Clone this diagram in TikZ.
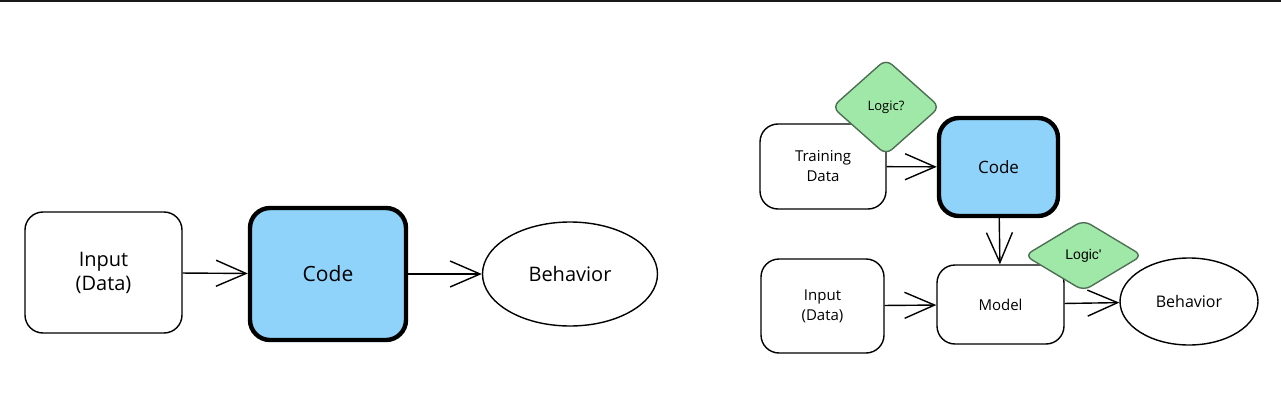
\documentclass[tikz,border=0pt]{standalone}
\usepackage{fontspec}
\setmainfont{Open Sans}
\newfontfamily\arialfont{Liberation Sans}
\usetikzlibrary{positioning,shapes.geometric,arrows.meta}

\definecolor{codeblue}{HTML}{8FD3FB}
\definecolor{logicgreen}{HTML}{A0E8A8}
\definecolor{logicedge}{HTML}{4F6F55}

\tikzset{
  box/.style = {draw, line width=0.7pt, rounded corners=9pt, align=center, fill=white},
  codebox/.style = {box, fill=codeblue, line width=2.2pt, rounded corners=10pt},
  behav/.style = {draw, ellipse, line width=0.7pt, inner sep=0pt},
  logic/.style = {draw=logicedge, fill=logicgreen, diamond, line width=0.7pt, rounded corners=4pt, inner sep=0pt},
  flow/.style = {-{Straight Barb[length=15pt, width=13pt, line width=0.7pt]}, line width=0.7pt}
}

\begin{document}
\begin{tikzpicture}[x=0.5pt, y=-0.5pt]
                \useasboundingbox (0,0) rectangle (1281,412);
                \draw[line width=1.2pt, black!90] (0,1) -- (1281,1);

                % plain program
                \node[box, minimum width=78.5pt, minimum height=60.5pt, font=\fontsize{10}{12}\selectfont] at (103.5,272.5) (inL) {Input\\(Data)};
                \node[codebox, minimum width=78pt, minimum height=66pt, font=\fontsize{10.5}{12}\selectfont] at (328,274) (codeL) {Code};
                \node[behav, minimum width=87.5pt, minimum height=52pt, font=\fontsize{10}{12}\selectfont] at (570,274) (behL) {Behavior};

                \draw [flow] (inL) -- (codeL);
                \draw [flow] (codeL) -- (behL);

                % learned model
                \node[box, minimum width=63pt, minimum height=42.5pt, font=\fontsize{7.5}{10}\selectfont] at (823,166.5) (train) {Training\\Data};
                \node[codebox, minimum width=59.5pt, minimum height=49pt, font=\fontsize{8.5}{10}\selectfont] at (998.5,167) (codeR) {Code};
                \node[box, minimum width=63.5pt, minimum height=39.5pt, font=\fontsize{7.5}{10}\selectfont] at (1000.5,304.5) (model) {Model};
                \node[box, minimum width=61.5pt, minimum height=47pt, font=\fontsize{7.5}{10}\selectfont] at (822.5,306) (inR) {Input\\(Data)};
                \node[behav, minimum width=69pt, minimum height=43.5pt, font=\fontsize{8}{10}\selectfont] at (1189,301.5) (behR) {Behavior};

                \node[logic, minimum width=54pt, minimum height=48pt, font=\fontsize{6.5}{8}\selectfont] at (886,107) (guess) {Logic?};
                \node[logic, minimum width=59pt, minimum height=35.5pt, font=\arialfont\fontsize{7}{8}\selectfont] at (1083.5,255.5) (learnt) {Logic'};

                \draw [flow] (train) -- (codeR);
                \draw [flow] (codeR) -- (model);
                \draw [flow] (inR) -- (model);
                \draw [flow] (model) -- (behR);
            \end{tikzpicture}
\end{document}
